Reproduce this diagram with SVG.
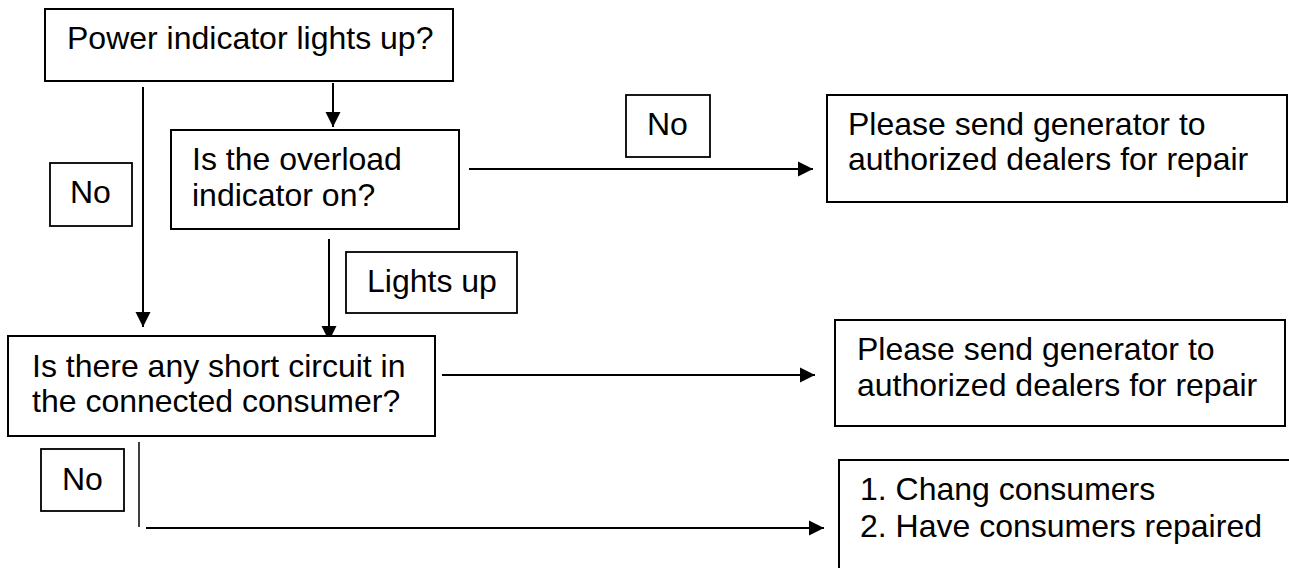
<svg xmlns="http://www.w3.org/2000/svg" width="1289" height="571" viewBox="0 0 1289 571">
<defs>
<style>
.box{fill:#fff;stroke:#000;stroke-width:2}
.lbl{fill:#fff;stroke:#000;stroke-width:1.8}
.t{font-family:"Liberation Sans",Arial,sans-serif;font-size:32px;fill:#000}
.ln{stroke:#000;stroke-width:2;fill:none}
.thin{stroke:#000;stroke-width:1.5;fill:none}
</style>
<marker id="ah" markerUnits="userSpaceOnUse" markerWidth="16" markerHeight="16" viewBox="0 0 16 16" refX="15" refY="8" orient="auto">
<path d="M0,0.5 L15,8 L0,15.5 Z" fill="#000"/>
</marker>
</defs>
<rect width="1289" height="571" fill="#fff"/>
<g id="connectors">
<line class="ln" x1="143" y1="87" x2="143" y2="327" marker-end="url(#ah)"/>
<line class="ln" x1="333" y1="83" x2="333" y2="127" marker-end="url(#ah)"/>
<line class="ln" x1="469" y1="169" x2="813" y2="169" marker-end="url(#ah)"/>
<line class="ln" x1="329" y1="239" x2="329" y2="341" marker-end="url(#ah)"/>
<line class="ln" x1="442" y1="375" x2="815" y2="375" marker-end="url(#ah)"/>
<line class="thin" x1="139" y1="442" x2="139" y2="527"/>
<line class="ln" x1="146" y1="528" x2="824" y2="528" marker-end="url(#ah)"/>
</g>
<g id="n_power">
<rect class="box" x="45" y="9" width="408" height="72"/>
<text class="t" x="67" y="49">Power indicator lights up?</text>
</g>
<g id="n_overload">
<rect class="box" x="171" y="130" width="288" height="99"/>
<text class="t" x="192" y="170">Is the overload</text>
<text class="t" x="192" y="206">indicator on?</text>
</g>
<g id="l_no1">
<rect class="lbl" x="50" y="163" width="82" height="63"/>
<text class="t" x="70" y="203">No</text>
</g>
<g id="l_no2">
<rect class="lbl" x="626" y="95" width="84" height="62"/>
<text class="t" x="647" y="135">No</text>
</g>
<g id="n_repair1">
<rect class="box" x="827" y="95" width="460" height="107"/>
<text class="t" x="848" y="135">Please send generator to</text>
<text class="t" x="848" y="170">authorized dealers for repair</text>
</g>
<g id="l_lights">
<rect class="lbl" x="346" y="252" width="171" height="61"/>
<text class="t" x="367" y="292">Lights up</text>
</g>
<g id="n_short">
<rect class="box" x="8" y="336" width="427" height="100"/>
<text class="t" x="32" y="377">Is there any short circuit in</text>
<text class="t" x="32" y="412">the connected consumer?</text>
</g>
<g id="n_repair2">
<rect class="box" x="835" y="320" width="450" height="106"/>
<text class="t" x="857" y="360">Please send generator to</text>
<text class="t" x="857" y="396">authorized dealers for repair</text>
</g>
<g id="l_no3">
<rect class="lbl" x="41" y="449" width="83" height="62"/>
<text class="t" x="62" y="490">No</text>
</g>
<g id="n_consumers">
<path class="box" d="M1295,460 L839,460 L839,568"/>
<text class="t" x="860" y="500">1. Chang consumers</text>
<text class="t" x="860" y="537">2. Have consumers repaired</text>
</g>
</svg>
